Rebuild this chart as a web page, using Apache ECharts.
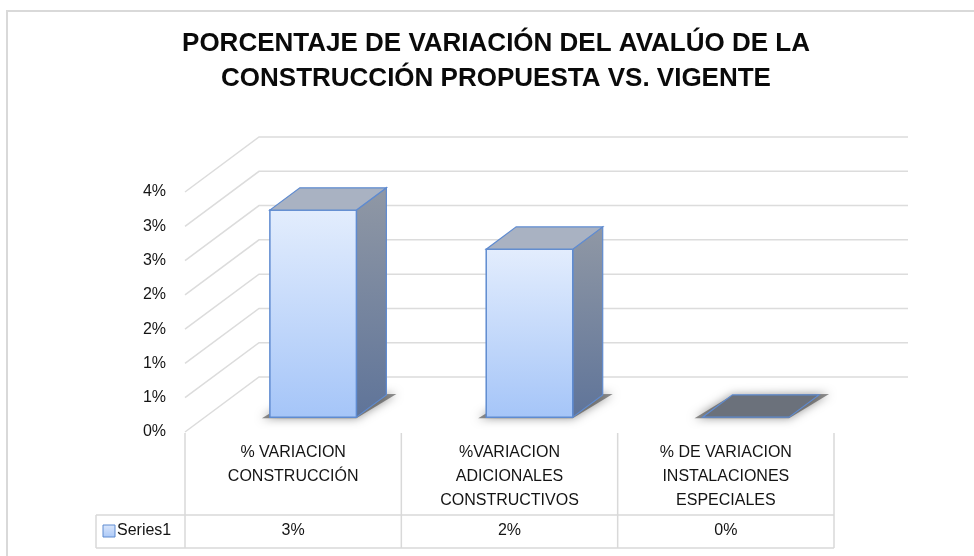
<!DOCTYPE html>
<html>
<head>
<meta charset="utf-8">
<script src="https://cdn.jsdelivr.net/npm/echarts@6/dist/echarts.min.js"></script>
<style>
  html, body { margin: 0; padding: 0; background: #fff; }
  #main { width: 974px; height: 556px; }
</style>
</head>
<body>
<div id="main"></div>
<script>
// chart data
var titleText = 'PORCENTAJE DE VARIACIÓN DEL AVALÚO DE LA\nCONSTRUCCIÓN PROPUESTA VS. VIGENTE';
var categories = [
  '% VARIACION\nCONSTRUCCIÓN',
  '%VARIACION\nADICIONALES\nCONSTRUCTIVOS',
  '% DE VARIACION\nINSTALACIONES\nESPECIALES'
];
var seriesName = 'Series1';
var values = [0.0302, 0.0245, 0];
var tickValues = [0, 0.005, 0.01, 0.015, 0.02, 0.025, 0.03, 0.035];

// 3d look: depth offset of the walls, bar depth position
var DX = 74, DY = -55;
var F0 = 0.27, BD = 0.405;
var FONT = "'Liberation Sans', Arial, sans-serif";
var TXT = '#141414';
var GRID = { left: 185, right: 140, top: 192, bottom: 124 };

function pct(v) {
  return Math.round(+(v * 100).toFixed(6)) + '%';
}

var myChart = echarts.init(document.getElementById('main'));

function renderGrid(params, api) {
  var cs = params.coordSys;
  var y = api.coord([0, api.value(1)])[1];
  var x0 = cs.x, x1 = cs.x + DX, x2 = cs.x + cs.width + DX;
  return {
    type: 'polyline',
    shape: { points: [[x0, y], [x1, y + DY], [x2, y + DY]] },
    style: { stroke: '#dcdcdc', lineWidth: 1.5, fill: null },
    silent: true
  };
}

function renderBar(params, api) {
  var cs = params.coordSys;
  var idx = api.value(0), v = api.value(1);
  var base = api.coord([idx, 0]);
  var top = api.coord([idx, v]);
  var band = api.size([1, 0])[0];
  var w = band * 0.4;
  var fx = base[0] - w / 2 + DX * F0;
  var fy0 = base[1] + DY * F0;
  var fy1 = top[1] + DY * F0;
  var bx = DX * BD, by = DY * BD;
  var stroke = '#5f8bd0';
  var children = [];
  // soft shadow under the bar
  children.push({
    type: 'polygon',
    shape: { points: [[fx - 8, fy0 + 1], [fx + w, fy0 + 1], [fx + w + bx + 10, fy0 + by - 1], [fx + bx, fy0 + by]] },
    style: { fill: 'rgba(70,70,70,0.6)', shadowBlur: 10, shadowColor: 'rgba(0,0,0,0.7)' },
    silent: true
  });
  if (fy0 - fy1 > 0.5) {
    children.push({
      type: 'polygon',
      shape: { points: [[fx + w, fy1], [fx + w + bx, fy1 + by], [fx + w + bx, fy0 + by], [fx + w, fy0]] },
      style: {
        fill: new echarts.graphic.LinearGradient(0, 0, 0, 1, [
          { offset: 0, color: '#9098a5' },
          { offset: 1, color: '#5f7499' }
        ]),
        stroke: stroke, lineWidth: 1.2
      }
    });
    children.push({
      type: 'rect',
      shape: { x: fx, y: fy1, width: w, height: fy0 - fy1 },
      style: {
        fill: new echarts.graphic.LinearGradient(0, 0, 0, 1, [
          { offset: 0, color: '#e3edfd' },
          { offset: 1, color: '#a5c5f8' }
        ]),
        stroke: stroke, lineWidth: 1.5
      }
    });
  }
  children.push({
    type: 'polygon',
    shape: { points: [[fx, fy1], [fx + w, fy1], [fx + w + bx, fy1 + by], [fx + bx, fy1 + by]] },
    style: { fill: v > 0 ? '#a9b2c2' : '#6b717b', stroke: stroke, lineWidth: 1.2 }
  });
  // value cell of the data table
  children.push({
    type: 'text',
    style: {
      x: base[0], y: cs.y + cs.height + 99,
      text: pct(v), fill: TXT, font: '16px ' + FONT,
      align: 'center', verticalAlign: 'middle'
    },
    silent: true
  });
  return { type: 'group', children: children };
}

// data table frame
var tLeft = GRID.left, tRight = 974 - GRID.right;
var colW = (tRight - tLeft) / categories.length;
var tTop = 433, tMid = 515, tBot = 548, tLabel = 96;
var tableLines = [];
for (var i = 0; i <= categories.length; i++) {
  var x = tLeft + colW * i;
  tableLines.push({ type: 'line', shape: { x1: x, y1: tTop, x2: x, y2: tBot } });
}
tableLines.push({ type: 'line', shape: { x1: tLabel, y1: tMid, x2: tRight, y2: tMid } });
tableLines.push({ type: 'line', shape: { x1: tLabel, y1: tBot, x2: tRight, y2: tBot } });
tableLines.push({ type: 'line', shape: { x1: tLabel, y1: tMid, x2: tLabel, y2: tBot } });
tableLines.forEach(function (l) {
  l.style = { stroke: '#d9d9d9', lineWidth: 1.5 };
  l.silent = true;
});

myChart.setOption({
  animation: false,
  backgroundColor: '#ffffff',
  title: {
    text: titleText,
    left: 491,
    top: 21,
    textAlign: 'center',
    textStyle: {
      fontFamily: FONT,
      fontWeight: 'bold',
      fontSize: 26,
      lineHeight: 35,
      color: '#0a0a0a'
    }
  },
  grid: GRID,
  xAxis: {
    type: 'category',
    data: categories,
    axisLine: { show: false },
    axisTick: { show: false },
    splitLine: { show: false },
    axisLabel: {
      interval: 0,
      margin: 9,
      fontFamily: FONT,
      fontSize: 16,
      lineHeight: 24,
      color: TXT,
      verticalAlign: 'top'
    }
  },
  yAxis: {
    type: 'value',
    min: 0,
    max: 0.035,
    interval: 0.005,
    axisLine: { show: false },
    axisTick: { show: false },
    splitLine: { show: false },
    axisLabel: {
      margin: 19,
      fontFamily: FONT,
      fontSize: 16,
      color: TXT,
      formatter: pct
    }
  },
  series: [
    {
      type: 'custom',
      name: 'grid',
      renderItem: renderGrid,
      data: tickValues.map(function (v) { return [0, v]; }),
      z: 1
    },
    {
      type: 'custom',
      name: seriesName,
      renderItem: renderBar,
      data: values.map(function (v, i) { return [i, v]; }),
      z: 3
    }
  ],
  graphic: [
    {
      type: 'polyline',
      shape: { points: [[7, 570], [7, 11], [990, 11]] },
      style: { stroke: '#d9d9d9', lineWidth: 2, fill: null },
      silent: true
    },
    { type: 'group', children: tableLines },
    {
      type: 'rect',
      shape: { x: 103, y: 525, width: 12, height: 12 },
      style: {
        fill: new echarts.graphic.LinearGradient(0, 0, 0, 1, [
          { offset: 0, color: '#dbe7fc' },
          { offset: 1, color: '#aac8f7' }
        ]),
        stroke: '#5f8bd0', lineWidth: 1
      },
      silent: true
    },
    {
      type: 'text',
      style: {
        x: 117, y: 531, text: seriesName, fill: TXT,
        font: '16px ' + FONT, verticalAlign: 'middle'
      },
      silent: true
    }
  ]
});
</script>
</body>
</html>
